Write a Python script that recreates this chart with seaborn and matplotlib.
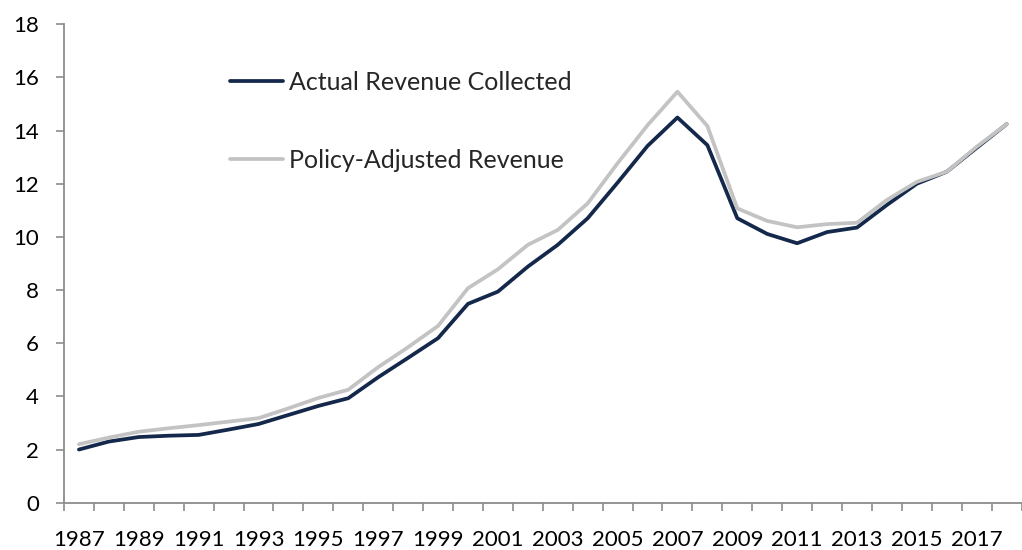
import numpy as np
import pandas as pd
import matplotlib
matplotlib.use("Agg")
import matplotlib.pyplot as plt
import seaborn as sns

years = list(range(1987, 2019))

actual_revenue = [2.00, 2.30, 2.47, 2.52, 2.55, 2.75, 2.96, 3.30, 3.64, 3.93,
                  4.72, 5.45, 6.19, 7.48, 7.94, 8.88, 9.70, 10.70, 12.04, 13.42,
                  14.49, 13.45, 10.70, 10.11, 9.76, 10.18, 10.35, 11.20, 12.00, 12.45,
                  13.35, 14.24]

policy_adjusted = [2.20, 2.45, 2.67, 2.80, 2.92, 3.05, 3.18, 3.55, 3.94, 4.25,
                   5.10, 5.85, 6.65, 8.07, 8.78, 9.70, 10.26, 11.26, 12.77, 14.20,
                   15.46, 14.17, 11.07, 10.60, 10.36, 10.48, 10.53, 11.39, 12.07, 12.45,
                   13.39, 14.24]

series_names = ["Actual Revenue Collected", "Policy-Adjusted Revenue"]
series_colors = ["#14284B", "#C3C3C3"]

df = pd.DataFrame({
    "year": years * 2,
    "value": actual_revenue + policy_adjusted,
    "series": [series_names[0]] * len(years) + [series_names[1]] * len(years),
})

sns.set_theme(style="white")
plt.rcParams["font.family"] = ["Lato", "DejaVu Sans"]

fig = plt.figure(figsize=(10.22, 5.5), dpi=100)
ax = fig.add_axes([0.0626, 0.086, 0.937, 0.870])

sns.lineplot(data=df, x="year", y="value", hue="series",
             hue_order=series_names, palette=series_colors,
             linewidth=2.7, ax=ax, legend=True)

ax.set_xlim(years[0] - 0.5, years[-1] + 0.5)
ax.set_ylim(0, 18)
ax.set_yticks(np.arange(0, 19, 2))

# labels every other year, tick marks on every year boundary
ax.set_xticks(years[::2])
ax.set_xticks(np.arange(years[0] - 0.5, years[-1] + 1.0, 1.0), minor=True)
ax.tick_params(axis="x", which="major", length=0, pad=20, labelsize=16, colors="black")
ax.tick_params(axis="x", which="minor", length=6, width=1.2, color="#8C8C8C", direction="out", bottom=True)
ax.tick_params(axis="y", which="major", length=6, width=1.2, color="#8C8C8C", direction="out",
               left=True, pad=12, labelsize=16, colors="black")
ax.tick_params(axis="y", labelcolor="black")

ax.set_xlabel("")
ax.set_ylabel("")

for side in ["top", "right"]:
    ax.spines[side].set_visible(False)
for side in ["left", "bottom"]:
    ax.spines[side].set_color("#8C8C8C")
    ax.spines[side].set_linewidth(1.3)

leg = ax.legend(loc="upper left", bbox_to_anchor=(0.15, 0.95), frameon=False,
                fontsize=18, handlelength=2.1, handletextpad=0.25, labelspacing=2.2)
for line in leg.get_lines():
    line.set_linewidth(2.7)

fig.savefig("out.png", dpi=100)
